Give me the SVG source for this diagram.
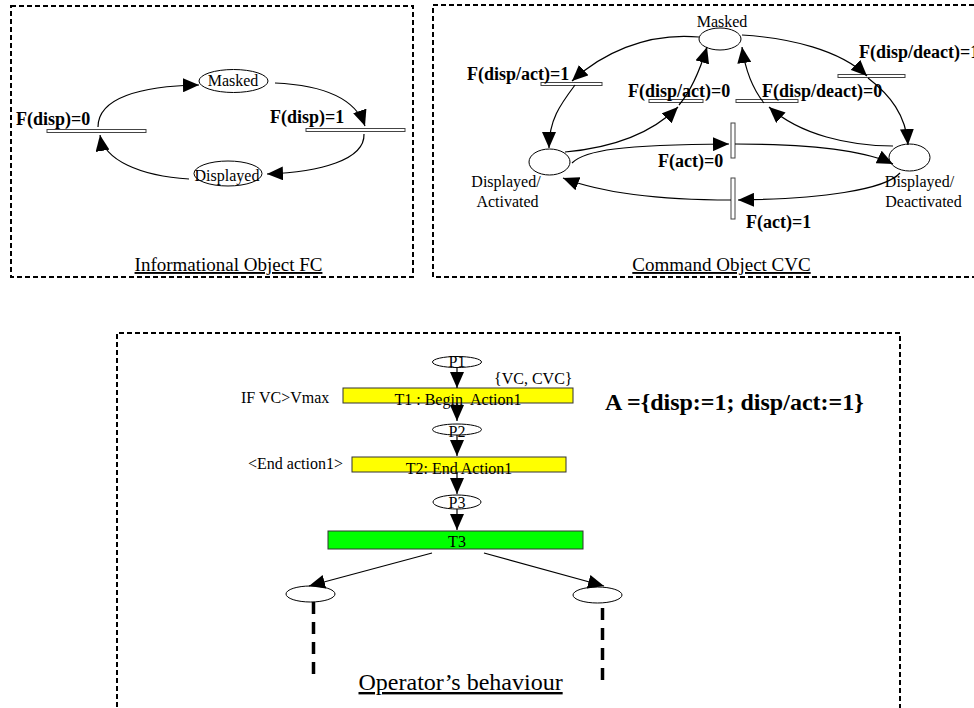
<svg xmlns="http://www.w3.org/2000/svg" width="974" height="708" viewBox="0 0 974 708">
<defs>
<marker id="ah" viewBox="0 0 16 14" refX="16" refY="7" markerWidth="16" markerHeight="14" markerUnits="userSpaceOnUse" orient="auto">
<path d="M0,0 L16,7 L0,14 z" fill="#000"/>
</marker>
<style>
.frame{fill:none;stroke:#000;stroke-width:2;stroke-dasharray:5,3}
.st{fill:#fff;stroke:#000;stroke-width:1}
.bar{fill:#fff;stroke:#444;stroke-width:1}
.cn{fill:none;stroke:#000;stroke-width:1.2;marker-end:url(#ah)}
.t{font-family:"Liberation Serif","Times New Roman",serif;font-size:16px;fill:#000}
.b{font-family:"Liberation Serif","Times New Roman",serif;font-size:18px;font-weight:bold;fill:#000}
.ttl{font-family:"Liberation Serif","Times New Roman",serif;font-size:19px;fill:#000;text-decoration:underline}
.m{text-anchor:middle}
.tr{stroke:#333;stroke-width:1}
.dash{fill:none;stroke:#000;stroke-width:3.5;stroke-dasharray:12,8}
</style>
</defs>
<rect width="974" height="708" fill="#fff"/>

<!-- Panel 1 -->
<g id="panel-fc">
<rect class="frame" x="11" y="6" width="402" height="271"/>
<text class="ttl m" x="228.5" y="271">Informational Object FC</text>
</g>
<g id="fc-masked"><ellipse class="st" cx="233.5" cy="81" rx="34.5" ry="11.5"/><text class="t m" x="233" y="86">Masked</text></g>
<g id="fc-displayed"><ellipse class="st" cx="228" cy="173.5" rx="34" ry="12.5"/><text class="t m" x="227" y="181">Displayed</text></g>
<g id="fc-t0"><rect class="bar" x="47" y="129.5" width="99" height="3"/><text class="b" x="16" y="125">F(disp)=0</text></g>
<g id="fc-t1"><rect class="bar" x="306" y="128.5" width="99" height="3"/><text class="b" x="270" y="123">F(disp)=1</text></g>

<!-- Panel 2 -->
<g id="panel-cvc">
<rect class="frame" x="433" y="5" width="560" height="272"/>
<text class="ttl m" x="721.5" y="271">Command Object CVC</text>
</g>
<g id="cvc-masked"><ellipse class="st" cx="720" cy="39" rx="21" ry="11"/><text class="t m" x="722" y="27">Masked</text></g>
<g id="cvc-act"><ellipse class="st" cx="549.5" cy="162" rx="20.5" ry="13"/><text class="t m" x="506" y="187">Displayed/</text><text class="t m" x="507.5" y="207">Activated</text></g>
<g id="cvc-deact"><ellipse class="st" cx="909.5" cy="157.5" rx="20.5" ry="13.5"/><text class="t m" x="919.5" y="187">Displayed/</text><text class="t m" x="923.5" y="207">Deactivated</text></g>
<g id="cvc-da1"><rect class="bar" x="541" y="82.5" width="61" height="3"/><text class="b" x="467" y="80">F(disp/act)=1</text></g>
<g id="cvc-da0"><rect class="bar" x="649" y="99.5" width="54" height="3"/><text class="b" x="628" y="97">F(disp/act)=0</text></g>
<g id="cvc-dd0"><rect class="bar" x="736" y="99.5" width="62" height="3"/><text class="b" x="762" y="97">F(disp/deact)=0</text></g>
<g id="cvc-dd1"><rect class="bar" x="838" y="74.5" width="67" height="3"/><text class="b" x="859" y="58">F(disp/deact)=1</text></g>
<g id="cvc-a0"><rect class="bar" x="731" y="123" width="4" height="35"/><text class="b" x="658" y="167">F(act)=0</text></g>
<g id="cvc-a1"><rect class="bar" x="731" y="178" width="4" height="41"/><text class="b" x="746" y="228">F(act)=1</text></g>

<!-- Panel 3 -->
<g id="panel-op">
<path class="frame" d="M117,715 V333 H900 V715"/>
<text class="t" x="358.5" y="690" style="font-size:24px;text-decoration:underline">Operator’s behaviour</text>
<text class="b" x="605" y="410" style="font-size:24px">A ={disp:=1; disp/act:=1}</text>
</g>
<g id="p1"><ellipse class="st" cx="457" cy="362" rx="24.5" ry="5.5"/><text class="t m" x="457" y="367">P1</text></g>
<g id="t1"><rect class="tr" x="343" y="388" width="230" height="15" fill="#ffff00"/><text class="t m" x="458" y="405">T1 : Begin&#160; Action1</text><text class="t" x="494" y="384">{VC, CVC}</text><text class="t" x="241" y="403">IF VC&gt;Vmax</text></g>
<g id="p2"><ellipse class="st" cx="457" cy="429.5" rx="24.5" ry="5.5"/><text class="t m" x="457" y="437">P2</text></g>
<g id="t2"><rect class="tr" x="352" y="457" width="214" height="15" fill="#ffff00"/><text class="t m" x="459" y="474">T2: End Action1</text><text class="t" x="248" y="469">&lt;End action1&gt;</text></g>
<g id="p3"><ellipse class="st" cx="457" cy="502" rx="24" ry="7"/><text class="t m" x="457" y="508">P3</text></g>
<g id="t3"><rect class="tr" x="328" y="531" width="255" height="18" fill="#00ff00"/><text class="t m" x="457" y="547">T3</text></g>
<g id="p4"><ellipse class="st" cx="310.5" cy="594" rx="24.5" ry="8"/></g>
<g id="p5"><ellipse class="st" cx="597.5" cy="595" rx="24.5" ry="8"/></g>

<g id="connectors">
<!-- panel 1 -->
<path class="cn" d="M98,127 C98,98 140,86 199,85"/>
<path class="cn" d="M275,83 C320,85 355,97 365,126"/>
<path class="cn" d="M364,134 C365,160 320,172 267,174"/>
<path class="cn" d="M189,179 C140,176 104,160 100,135"/>
<!-- panel 2 -->
<path class="cn" d="M699,37 C645,32 600,55 572,81"/>
<path class="cn" d="M575,85 C560,105 549,120 549,148"/>
<path class="cn" d="M565,152 C610,148 650,135 678,107"/>
<path class="cn" d="M679,105 C690,92 700,70 707,47"/>
<path class="cn" d="M893,146 C850,146 800,135 769,107"/>
<path class="cn" d="M764,103 C752,88 745,68 742,47"/>
<path class="cn" d="M742,35 C790,38 840,50 867,76"/>
<path class="cn" d="M868,78 C890,95 906,115 908,145"/>
<path class="cn" d="M572,163 C585,150 620,145 729,144"/>
<path class="cn" d="M735,144 C800,144 860,148 893,164"/>
<path class="cn" d="M900,173 C885,190 820,199 738,200"/>
<path class="cn" d="M731,200 C680,200 610,196 563,178"/>
<!-- panel 3 -->
<path class="cn" d="M457,367.5 V388"/>
<path class="cn" d="M457,403 V421"/>
<path class="cn" d="M457,435 V456"/>
<path class="cn" d="M457,472 V494"/>
<path class="cn" d="M457,509 V530"/>
<path class="cn" d="M432,553 L309,586"/>
<path class="cn" d="M484,553 L604,586"/>
<path class="dash" d="M313.5,602 V675"/>
<path class="dash" d="M602.5,608 V680"/>
</g>
</svg>
